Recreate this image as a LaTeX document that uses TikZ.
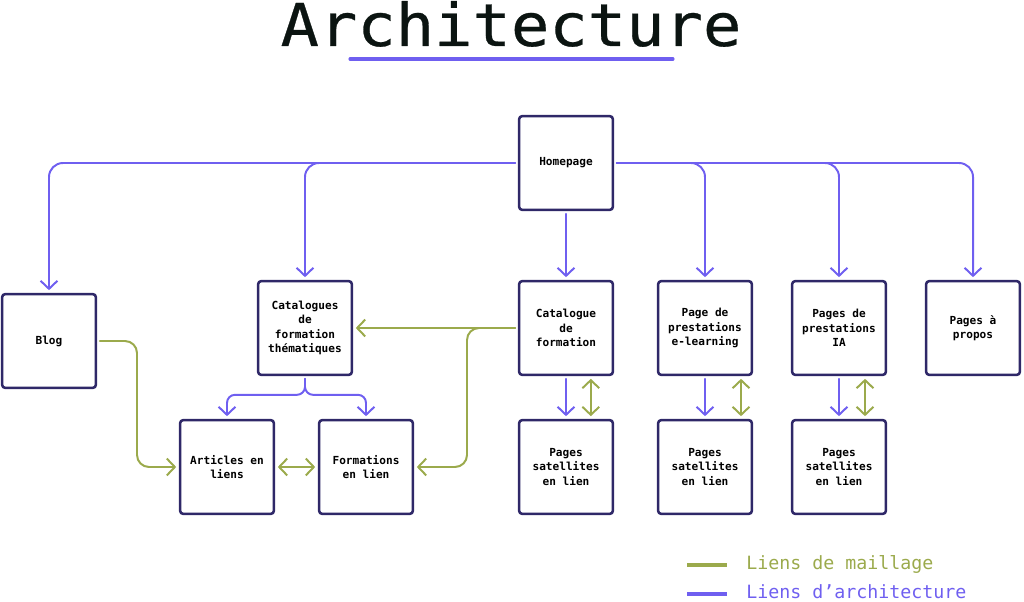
\documentclass[tikz,border=0pt]{standalone}
\usepackage{fontspec}
\setmonofont{DejaVu Sans Mono}
\newfontfamily\titlefont[FakeStretch=1.08,FakeBold=0.5]{DejaVu Sans Mono}
\usepackage{tikz}
\usetikzlibrary{arrows.meta}

\definecolor{archviolet}{HTML}{6F5FF0}
\definecolor{meshgreen}{HTML}{9BAA4C}
\definecolor{boxnavy}{HTML}{2F2868}
\definecolor{titleink}{HTML}{0B1411}

\begin{document}
\begin{tikzpicture}[
			x=0.025cm, y=-0.025cm,
			line cap=round,
			line join=round,
			>={Straight Barb[length=0.2cm,width=0.42cm]},
			page/.style={draw=boxnavy, line width=1.8pt, rounded corners=2pt, fill=white,
				minimum width=2.34cm, minimum height=2.34cm, align=center, outer sep=0.1cm,
				font=\ttfamily\bfseries\fontsize{7.9}{10.2}\selectfont},
			archlink/.style={draw=archviolet, line width=1.4pt, rounded corners=0.35cm},
			meshlink/.style={draw=meshgreen, line width=1.4pt, rounded corners=0.3cm},
			legendtext/.style={anchor=west, inner sep=0pt, font=\ttfamily\fontsize{13}{15}\selectfont}
			]
			\useasboundingbox (0,0) rectangle (1024,602);
			
			% title
			\node[anchor=base, inner sep=0pt, text=titleink, font=\titlefont\fontsize{42}{48}\selectfont] (title) at (511,46) {Architecture};
			\draw[archviolet, line width=2.2pt] (350,59) -- (673,59);
			
			% pages
			\node[page] (home) at (566,163) {Homepage};
			\node[page] (blog) at (49,341) {Blog};
			\node[page] (catth) at (305,328) {Catalogues\\de\\formation\\thématiques};
			\node[page] (catf) at (566,328) {Catalogue\\de\\formation};
			\node[page] (elearn) at (705,328) {Page de\\prestations\\e-learning};
			\node[page] (ia) at (839,328) {Pages de\\prestations\\IA};
			\node[page] (apropos) at (973,328) {Pages à\\propos};
			\node[page] (art) at (227,467) {Articles en\\liens};
			\node[page] (form) at (366,467) {Formations\\en lien};
			\node[page] (sat1) at (566,467) {Pages\\satellites\\en lien};
			\node[page] (sat2) at (705,467) {Pages\\satellites\\en lien};
			\node[page] (sat3) at (839,467) {Pages\\satellites\\en lien};
			
			% architecture links
			\draw[archlink,->] (home.west) -| (blog.north);
			\draw[archlink,->] (home.west) -| (catth.north);
			\draw[archlink,->] (home.south) -- (catf.north);
			\foreach \dst in {elearn,ia,apropos}
			{
				\draw[archlink,->] (home.east) -| (\dst.north);
			}
			\draw[archlink,->,rounded corners=0.2cm] (catth.south) -- ++(0,16) -| (art.north);
			\draw[archlink,->,rounded corners=0.2cm] (catth.south) -- ++(0,16) -| (form.north);
			
			% satellites
			\foreach \src/\dst/\gap in {catf/sat1/0.62cm, elearn/sat2/0.9cm, ia/sat3/0.65cm}
			{
				\draw[archlink,->] (\src.south) -- (\dst.north);
				\draw[meshlink,<->] ([xshift=\gap]\src.south) -- ([xshift=\gap]\dst.north);
			}
			
			% maillage links
			\coordinate (meshbend) at (467,467);
			\coordinate (blogbend) at (137,467);
			\draw[meshlink,->] (catf.west) -- (catth.east);
			\draw[meshlink,->] (catf.west) -| (meshbend) -- (form.east);
			\draw[meshlink,->] (blog.east) -| (blogbend) -- (art.west);
			\draw[meshlink,<->] (art.east) -- (form.west);
			
			% legend
			\draw[meshgreen, line width=2.5pt, line cap=butt] (687,565) -- (727,565);
			\draw[archviolet, line width=2.5pt, line cap=butt] (687,594) -- (727,594);
			\node[legendtext, text=meshgreen] (meshkey) at (746,564) {Liens de maillage};
			\node[legendtext, text=archviolet] (archkey) at (746,592) {Liens d’architecture};
		\end{tikzpicture}
\end{document}
